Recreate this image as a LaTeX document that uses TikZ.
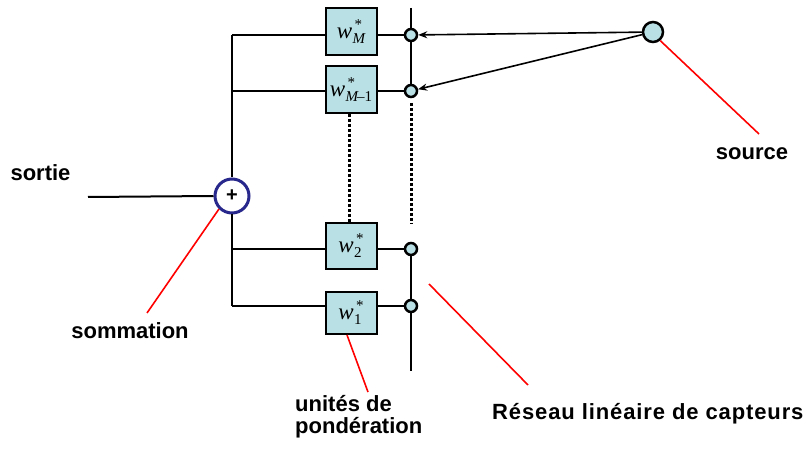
\documentclass[tikz,border=0pt]{standalone}
\usepackage{fontspec}
\setmainfont{Liberation Sans}
\newfontfamily\tms{Liberation Serif}
\usetikzlibrary{arrows.meta}
\definecolor{boxfill}{RGB}{185,224,228}
\definecolor{sumblue}{RGB}{40,40,140}
\newcommand{\wlab}[1]{{\tms\itshape\fontsize{23}{23}\selectfont w}\hspace{0.5pt}\raisebox{-5pt}{\tms\fontsize{15}{15}\selectfont\shortstack[l]{\hspace{2pt}*\\[1pt]#1}}}
\begin{document}
\begin{tikzpicture}[x=1pt,y=-1pt,
  wbox/.style={draw=black,line width=2pt,fill=boxfill,minimum width=51pt,minimum height=47pt,inner sep=0pt},
  sensor/.style={circle,draw=black,line width=2.5pt,fill=boxfill,minimum size=12pt,inner sep=0pt},
  wire/.style={line width=2pt,black},
  dotline/.style={line width=3pt,dash pattern=on 3pt off 2pt},
  redline/.style={red,line width=1.6pt},
  lbl/.style={font=\fontsize{22}{22}\selectfont\bfseries,inner sep=0pt,anchor=base}]
\useasboundingbox (0,0) rectangle (807,449);
% weight boxes
\node[wbox] (wM) at (351,31.5) {\wlab{\itshape M}};
\node[wbox] (wM1) at (351,89.5) {\wlab{\itshape M\upshape\kern-1pt–1}};
\node[wbox,minimum height=46pt] (w2) at (351,246) {\wlab{2}};
\node[wbox,minimum height=42pt] (w1) at (351,313) {\wlab{1}};
% sensors
\node[sensor] (sM) at (411,35) {};
\node[sensor] (sM1) at (411,91) {};
\node[sensor] (s2) at (411,249) {};
\node[sensor] (s1) at (411,306) {};
\coordinate (aT) at (411,8);
\coordinate (aD1) at (411,103);
\coordinate (aD2) at (411,224);
\coordinate (aB) at (411,371);
% source
\node[sensor,minimum size=20pt] (src) at (653,32) {};
% summation
\node[circle,draw=sumblue,line width=3pt,fill=white,minimum size=34pt,inner sep=0pt,font=\fontsize{20}{20}\selectfont\bfseries] (sum) at (232,196) {+};
% bus coordinates
\coordinate (b4) at (232,35);
\coordinate (b3) at (232,91);
\coordinate (b2) at (232,249);
\coordinate (b1) at (232,306);
\coordinate (out) at (88,197);
% bus wires
\draw[wire] (b4) -- (sum.north);
\draw[wire] (sum.south) -- (b1);
\draw[wire] (out) -- (sum.west);
\draw[wire] (b4) -- (wM.west |- b4);
\draw[wire] (b3) -- (wM1.west |- b3);
\draw[wire] (b2) -- (w2.west |- b2);
\draw[wire] (b1) -- (w1.west |- b1);
\draw[wire] (wM.east |- sM) -- (sM);
\draw[wire] (wM1.east |- sM1) -- (sM1);
\draw[wire] (w2.east |- s2) -- (s2);
\draw[wire] (w1.east |- s1) -- (s1);
% sensor array
\draw[wire] (aT) -- (sM);
\draw[wire] (sM) -- (sM1);
\draw[wire] (s2) -- (s1);
\draw[wire] (s1) -- (aB);
\draw[dotline] (aD1) -- (aD2);
\draw[dotline] (wM1.south -| 349,0) -- (w2.north -| 349,0);
% arrows from source
\draw[line width=1.6pt,-{Stealth[length=9pt,width=7pt]}] (src) -- (sM);
\draw[line width=1.6pt,-{Stealth[length=9pt,width=7pt]}] (src) -- (sM1);
% labels
\node[lbl] (sortie) at (40.5,181) {sortie};
\node[lbl] (somm) at (130,339) {sommation};
\node[lbl] (source) at (752,160) {source};
\node[lbl,anchor=base west] (unites) at (295,412) {unités de};
\node[lbl,anchor=base west] (ponder) at (295,434) {pondération};
\node[lbl,anchor=base west] (reseau) at (492,420) {\addfontfeature{LetterSpace=4}Réseau linéaire de capteurs};
% red leader lines
\coordinate (rA1) at (147,313);
\draw[redline] (sum.225) -- (rA1);
\coordinate (rS) at (759,134);
\draw[redline] (src.-50) -- (rS);
\coordinate (rR1) at (429,284);
\coordinate (rR2) at (528,385);
\draw[redline] (rR1) -- (rR2);
\coordinate (rU) at (368,392);
\draw[redline] (w1.south -| 347,0) -- (rU);
\end{tikzpicture}
\end{document}
